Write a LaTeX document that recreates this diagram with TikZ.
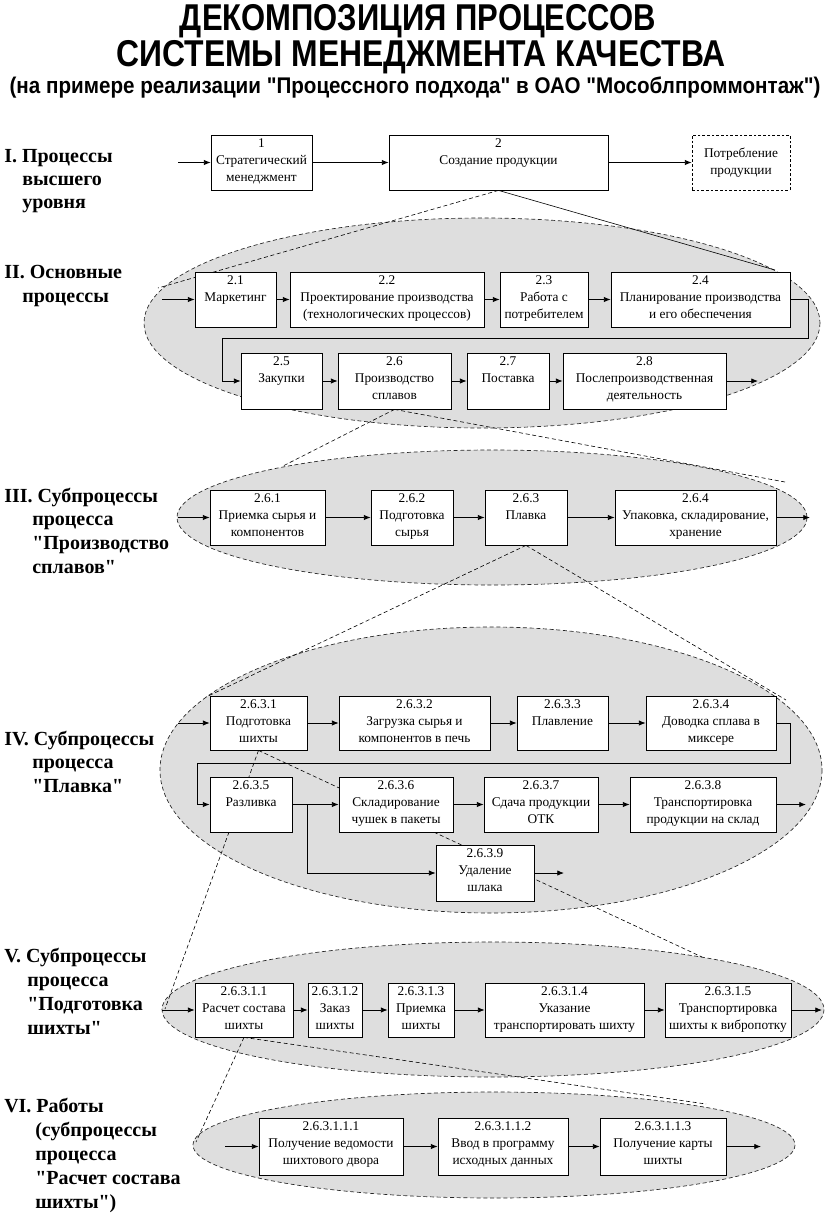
\documentclass[tikz,border=0pt]{standalone}
\usepackage{fontspec}
\usepackage{graphicx}
\setmainfont{Liberation Serif}[Ligatures=TeXOff]
\newfontfamily\headfont{Liberation Sans}
\usetikzlibrary{arrows.meta, positioning, fit, backgrounds}
\tikzset{
  pbox/.style={rectangle, draw, fill=white, line width=0.6pt, inner sep=0pt},
  cons/.style={pbox, dash pattern=on 2pt off 1.5pt, align=center, font=\fontsize{10}{12.75}\selectfont},
  ptext/.style={anchor=north, align=center, inner sep=2.5pt, font=\fontsize{10}{12.75}\selectfont},
  lvl/.style={anchor=base west, inner sep=0pt, font=\fontsize{15}{18}\selectfont\bfseries},
  ttl/.style={anchor=base, inner sep=0pt},
  ovl/.style={draw=black!85, fill=black!13, line width=0.5pt, dash pattern=on 3pt off 2pt},
  zoomln/.style={line width=0.45pt, dash pattern=on 3pt off 2pt},
  arr/.style={-{Latex[length=5pt, width=4pt]}, line width=0.6pt},
}
\begin{document}
\begin{tikzpicture}[x=0.75pt, y=-0.75pt]
  \useasboundingbox (0,0) rectangle (839,1218);
  % title
  \node[ttl] (t1) at (418,30) {\resizebox{357pt}{\height}{\headfont\bfseries\fontsize{28}{30}\selectfont ДЕКОМПОЗИЦИЯ ПРОЦЕССОВ}};
  \node[ttl] (t2) at (421,66) {\resizebox{457pt}{\height}{\headfont\bfseries\fontsize{28}{30}\selectfont СИСТЕМЫ МЕНЕДЖМЕНТА КАЧЕСТВА}};
  \node[ttl] (t3) at (415,93) {\resizebox{608pt}{\height}{\headfont\bfseries\fontsize{17}{20}\selectfont (на примере реализации "Процессного подхода" в ОАО "Мособлпроммонтаж")}};

  % level captions
  \node[lvl] (l1a) at (4,162) {I. Процессы};
  \node[lvl] (l1b) at (22,185) {высшего};
  \node[lvl] (l1c) at (22,208) {уровня};
  \node[lvl] (l2a) at (4,278) {II. Основные};
  \node[lvl] (l2b) at (22,302) {процессы};
  \node[lvl] (l3a) at (4,502) {III. Субпроцессы};
  \node[lvl] (l3b) at (32,525) {процесса};
  \node[lvl] (l3c) at (32,549) {"Производство};
  \node[lvl] (l3d) at (32,573) {сплавов"};
  \node[lvl] (l4a) at (4,745) {IV. Субпроцессы};
  \node[lvl] (l4b) at (32,768) {процесса};
  \node[lvl] (l4c) at (32,792) {"Плавка"};
  \node[lvl] (l5a) at (4,962) {V. Субпроцессы};
  \node[lvl] (l5b) at (27,986) {процесса};
  \node[lvl] (l5c) at (27,1010) {"Подготовка};
  \node[lvl] (l5d) at (27,1034) {шихты"};
  \node[lvl] (l6a) at (4,1112) {VI. Работы};
  \node[lvl] (l6b) at (35,1136) {(субпроцессы};
  \node[lvl] (l6c) at (35,1160) {процесса};
  \node[lvl] (l6d) at (35,1184) {"Расчет состава};
  \node[lvl] (l6e) at (35,1208) {шихты")};

  % I
  \node[pbox, fit={(211,135) (312,190)}, label={[ptext]north:{1\\Стратегический\\менеджмент}}] (b1) {};
  \node[pbox, fit={(389,135) (608,190)}, label={[ptext]north:{2\\Создание продукции}}] (b2) {};
  \node[cons, minimum width=73.5pt, minimum height=41.25pt] (bc) at (741,162.5) {Потребление\\продукции};
  \coordinate (i1) at (178,162.5);

  % II
  \node[pbox, fit={(195,272) (276,327)}, label={[ptext]north:{2.1\\Маркетинг}}] (p21) {};
  \node[pbox, fit={(290,272) (484,327)}, label={[ptext]north:{2.2\\Проектирование производства\\(технологических процессов)}}] (p22) {};
  \node[pbox, fit={(500,272) (588,327)}, label={[ptext]north:{2.3\\Работа с\\потребителем}}] (p23) {};
  \node[pbox, fit={(611,272) (790,327)}, label={[ptext]north:{2.4\\Планирование производства\\и его обеспечения}}] (p24) {};
  \node[pbox, fit={(241,353) (322,409)}, label={[ptext]north:{2.5\\Закупки}}] (p25) {};
  \node[pbox, fit={(338,353) (451,409)}, label={[ptext]north:{2.6\\Производство\\сплавов}}] (p26) {};
  \node[pbox, fit={(467,353) (549,409)}, label={[ptext]north:{2.7\\Поставка}}] (p27) {};
  \node[pbox, fit={(563,353) (726,409)}, label={[ptext]north:{2.8\\Послепроизводственная\\деятельность}}] (p28) {};
  \coordinate (i2) at (162,299.5);
  \coordinate (r2a) at (808,338);
  \coordinate (r2b) at (222,338);
  \coordinate (o2) at (758,381);

  % III
  \node[pbox, fit={(210,490) (325,545)}, label={[ptext]north:{2.6.1\\Приемка сырья и\\компонентов}}] (p261) {};
  \node[pbox, fit={(371,490) (453,545)}, label={[ptext]north:{2.6.2\\Подготовка\\сырья}}] (p262) {};
  \node[pbox, fit={(485,490) (567,545)}, label={[ptext]north:{2.6.3\\Плавка}}] (p263) {};
  \node[pbox, fit={(615,490) (776,545)}, label={[ptext]north:{2.6.4\\Упаковка, складирование,\\хранение}}] (p264) {};
  \coordinate (i3) at (178,517.5);
  \coordinate (o3) at (810,517.5);

  % IV
  \node[pbox, fit={(210,696) (307,750)}, label={[ptext]north:{2.6.3.1\\Подготовка\\шихты}}] (p2631) {};
  \node[pbox, fit={(339,696) (490,750)}, label={[ptext]north:{2.6.3.2\\Загрузка сырья и\\компонентов в печь}}] (p2632) {};
  \node[pbox, fit={(517,696) (608,750)}, label={[ptext]north:{2.6.3.3\\Плавление}}] (p2633) {};
  \node[pbox, fit={(646,696) (776,750)}, label={[ptext]north:{2.6.3.4\\Доводка сплава в\\миксере}}] (p2634) {};
  \node[pbox, fit={(210,777) (292,832)}, label={[ptext]north:{2.6.3.5\\Разливка}}] (p2635) {};
  \node[pbox, fit={(339,777) (453,832)}, label={[ptext]north:{2.6.3.6\\Складирование\\чушек в пакеты}}] (p2636) {};
  \node[pbox, fit={(484,777) (598,832)}, label={[ptext]north:{2.6.3.7\\Сдача продукции\\ОТК}}] (p2637) {};
  \node[pbox, fit={(630,777) (776,832)}, label={[ptext]north:{2.6.3.8\\Транспортировка\\продукции на склад}}] (p2638) {};
  \node[pbox, fit={(436,845) (534,901)}, label={[ptext]north:{2.6.3.9\\Удаление\\шлака}}] (p2639) {};
  \coordinate (i4) at (178,723);
  \coordinate (r4a) at (790,763);
  \coordinate (r4b) at (197,763);
  \coordinate (br4) at (307,804.5);
  \coordinate (o4) at (806,804.5);
  \coordinate (o4b) at (564,873);

  % V
  \node[pbox, fit={(195,983) (293,1037)}, label={[ptext]north:{2.6.3.1.1\\Расчет состава\\шихты}}] (p26311) {};
  \node[pbox, fit={(308,983) (362,1037)}, label={[ptext]north:{2.6.3.1.2\\Заказ\\шихты}}] (p26312) {};
  \node[pbox, fit={(388,983) (454,1037)}, label={[ptext]north:{2.6.3.1.3\\Приемка\\шихты}}] (p26313) {};
  \node[pbox, fit={(485,983) (644,1037)}, label={[ptext]north:{2.6.3.1.4\\Указание\\транспортировать шихту}}] (p26314) {};
  \node[pbox, fit={(665,983) (791,1037)}, label={[ptext]north:{2.6.3.1.5\\Транспортировка\\шихты к вибропотку}}] (p26315) {};
  \coordinate (i5) at (162,1010);
  \coordinate (o5) at (822,1010);

  % VI
  \node[pbox, fit={(259,1118) (403,1175)}, label={[ptext]north:{2.6.3.1.1.1\\Получение ведомости\\шихтового двора}}] (p263111) {};
  \node[pbox, fit={(438,1118) (568,1175)}, label={[ptext]north:{2.6.3.1.1.2\\Ввод в программу\\исходных данных}}] (p263112) {};
  \node[pbox, fit={(600,1118) (726,1175)}, label={[ptext]north:{2.6.3.1.1.3\\Получение карты\\шихты}}] (p263113) {};
  \coordinate (i6) at (225,1146.5);
  \coordinate (o6) at (761,1146.5);

  % ovals and zoom lines behind the boxes
  \begin{pgfonlayer}{background}
    \draw[ovl] (482,323) ellipse [x radius=338, y radius=105];
    \draw[ovl] (492,517.5) ellipse [x radius=315, y radius=67.5];
    \draw[ovl] (491,770) ellipse [x radius=331, y radius=143];
    \draw[ovl] (493,1009.5) ellipse [x radius=331, y radius=67.5];
    \draw[ovl] (494,1145) ellipse [x radius=301, y radius=53];
    \coordinate (z2l) at (158,288);
    \coordinate (z2r) at (775,270);
    \coordinate (z3l) at (283,466);
    \coordinate (z3r) at (785,482);
    \coordinate (z4l) at (206,697);
    \coordinate (z4r) at (786,700);
    \coordinate (z5l) at (165,1009);
    \coordinate (z5r) at (702,957);
    \coordinate (z6l) at (196,1142);
    \coordinate (z6r) at (706,1104);
    \draw[zoomln] (b2.south) -- (z2l);
    \draw[line width=0.45pt] (b2.south) -- (z2r);
    \draw[zoomln] (p26.south) -- (z3l);
    \draw[zoomln] (p26.south) -- (z3r);
    \draw[zoomln] (p263.south) -- (z4l);
    \draw[zoomln] (p263.south) -- (z4r);
    \draw[zoomln] (p2631.south) -- (z5l);
    \draw[zoomln] (p2631.south) -- (z5r);
    \draw[zoomln] (p26311.south) -- (z6l);
    \draw[zoomln] (p26311.south) -- (z6r);
  \end{pgfonlayer}

  % flows
  \draw[arr] (i1) -- (b1.west);
  \draw[arr] (b1) -- (b2);
  \draw[arr] (b2) -- (bc);

  \draw[arr] (i2) -- (p21.west);
  \draw[arr] (p21) -- (p22);
  \draw[arr] (p22) -- (p23);
  \draw[arr] (p23) -- (p24);
  \draw[arr] (p24.east) -| (r2a) -- (r2b) |- (p25.west);
  \draw[arr] (p25) -- (p26);
  \draw[arr] (p26) -- (p27);
  \draw[arr] (p27) -- (p28);
  \draw[arr] (p28.east) -- (o2);

  \draw[arr] (i3) -- (p261.west);
  \draw[arr] (p261) -- (p262);
  \draw[arr] (p262) -- (p263);
  \draw[arr] (p263) -- (p264);
  \draw[arr] (p264.east) -- (o3);

  \draw[arr] (i4) -- (p2631.west);
  \draw[arr] (p2631) -- (p2632);
  \draw[arr] (p2632) -- (p2633);
  \draw[arr] (p2633) -- (p2634);
  \draw[arr] (p2634.east) -| (r4a) -- (r4b) |- (p2635.west);
  \draw[arr] (p2635) -- (p2636);
  \draw[arr] (br4) |- (p2639.west);
  \draw[arr] (p2636) -- (p2637);
  \draw[arr] (p2637) -- (p2638);
  \draw[arr] (p2638.east) -- (o4);
  \draw[arr] (p2639.east) -- (o4b);

  \draw[arr] (i5) -- (p26311.west);
  \draw[arr] (p26311) -- (p26312);
  \draw[arr] (p26312) -- (p26313);
  \draw[arr] (p26313) -- (p26314);
  \draw[arr] (p26314) -- (p26315);
  \draw[arr] (p26315.east) -- (o5);

  \draw[arr] (i6) -- (p263111.west);
  \draw[arr] (p263111) -- (p263112);
  \draw[arr] (p263112) -- (p263113);
  \draw[arr] (p263113.east) -- (o6);
\end{tikzpicture}
\end{document}
